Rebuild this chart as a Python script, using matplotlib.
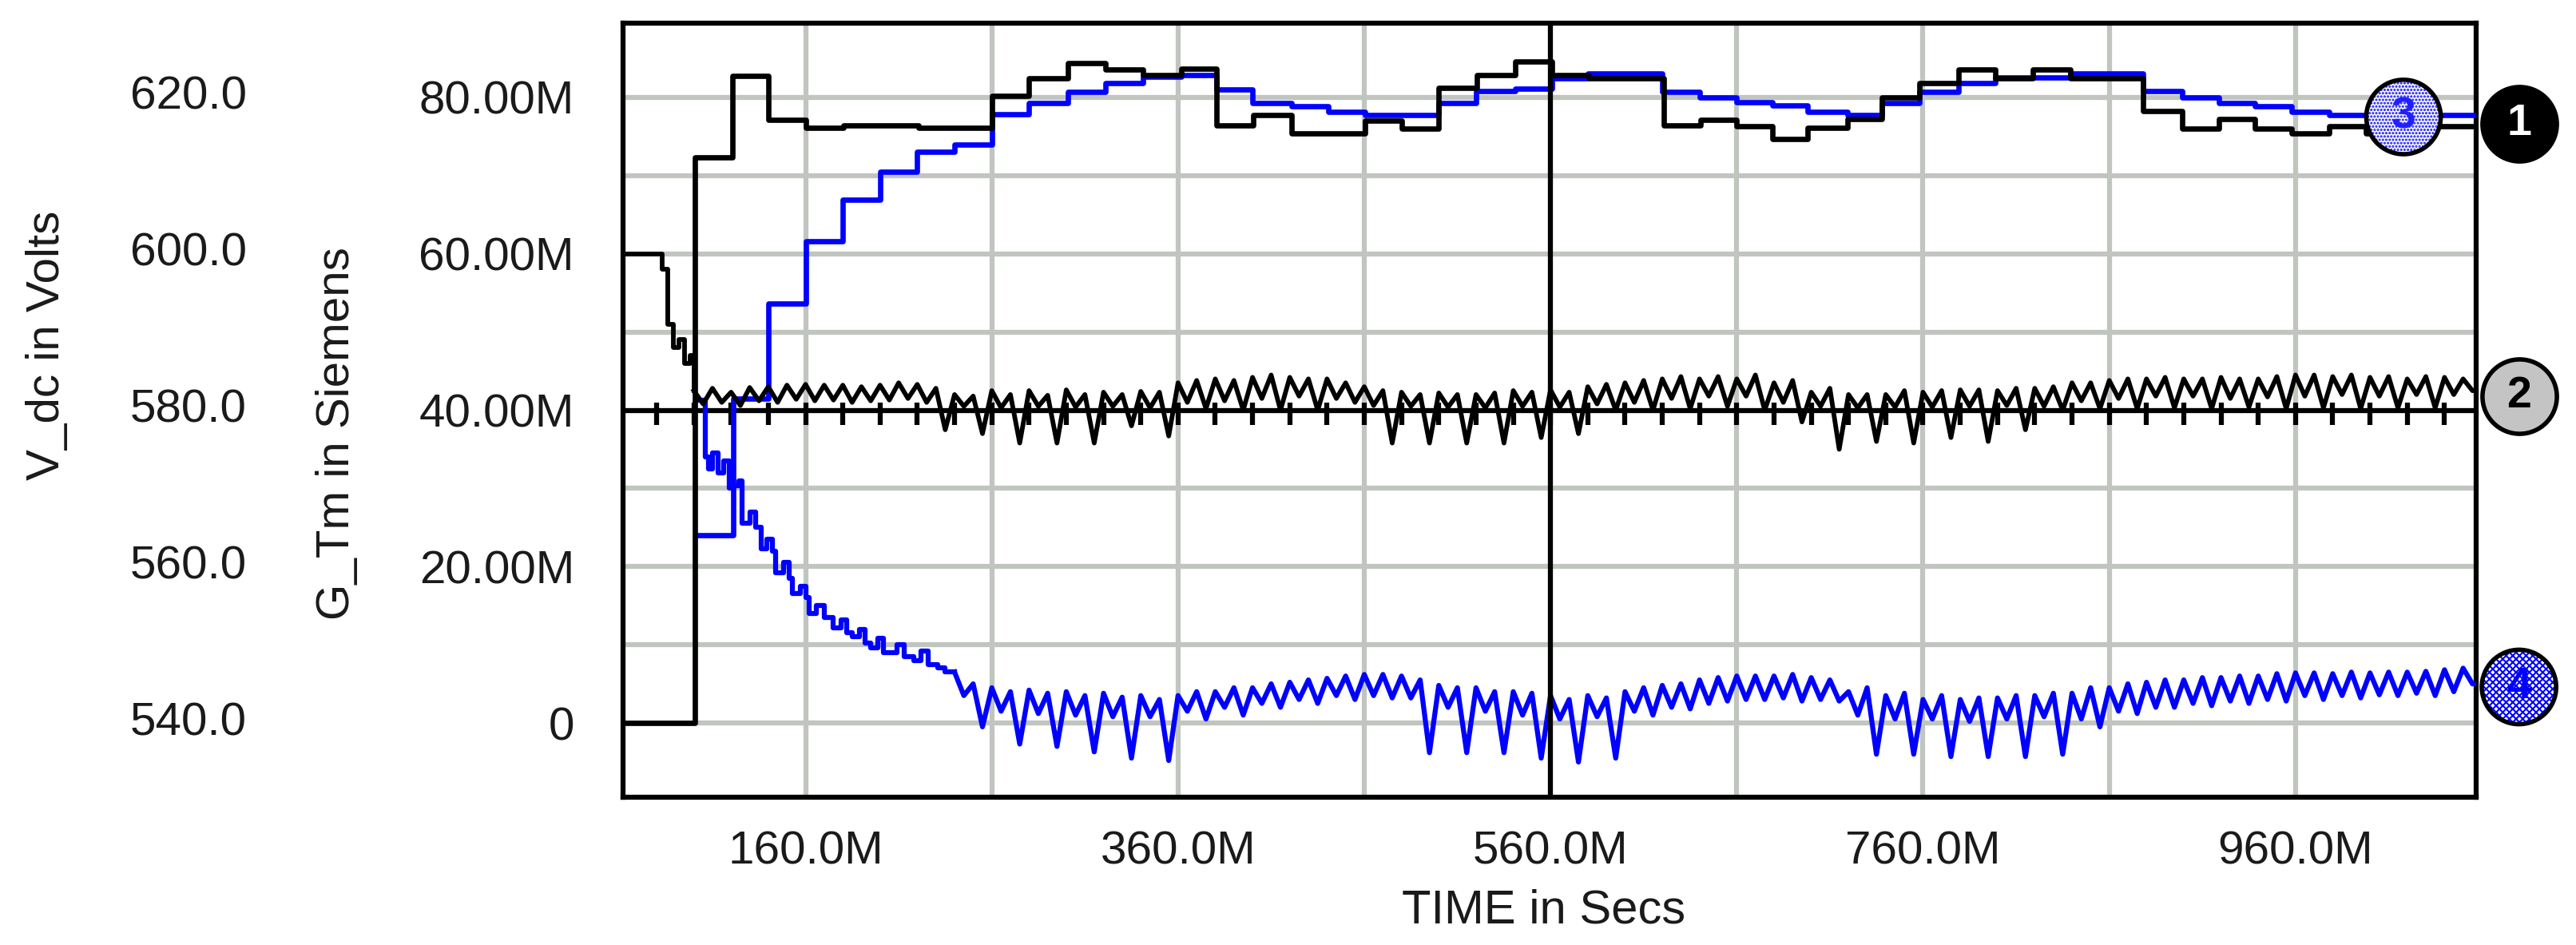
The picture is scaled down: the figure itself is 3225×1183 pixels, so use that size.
import numpy as np
import matplotlib
matplotlib.use("Agg")
import matplotlib.pyplot as plt
from matplotlib.ticker import FixedLocator
from matplotlib import font_manager

names = {f.name for f in font_manager.fontManager.ttflist}
narrow = 'Liberation Sans Narrow' if 'Liberation Sans Narrow' in names else 'Liberation Sans'
plt.rcParams['font.family'] = [narrow, 'Liberation Sans', 'DejaVu Sans']

# ---------------- data (time in M-secs, G in M-Siemens; V = 540 + G) ----------------
t_black1 = [62, 100.6, 120.7, 140.2, 160, 180.4, 220.5, 260, 280, 301, 321, 341, 361.7, 380.6, 400.5, 421,
            460.5, 480, 500, 520.5, 541, 561, 580.5, 620.7, 640.6, 660, 679, 698, 719.5, 738, 758, 779,
            799, 819, 839, 878, 899, 919, 938, 958, 978, 998, 1019, 1037]
v_black1 = [0, 72.3, 82.8, 77.1, 76.1, 76.4, 76.1, 80.2, 82.5, 84.4, 83.6, 82.9, 83.7, 76.4, 77.8, 75.4,
            77.0, 76.0, 81.2, 82.9, 84.6, 82.9, 82.5, 76.4, 77.1, 76.3, 74.7, 76.1, 77.2, 80.0, 81.8, 83.6,
            82.5, 83.6, 82.5, 78.3, 76.0, 77.2, 76.0, 75.4, 76.3, 75.4, 78.3, 76.3]

t_blue3 = [101, 121, 140, 160, 180, 200, 220, 240, 260, 280, 301, 321, 341, 361.7, 380.6, 400, 421, 440.6,
           460.5, 500, 520, 541, 561, 580, 620, 640, 660, 679, 698, 719.5, 738, 758, 779, 799, 839, 878,
           899, 919, 938, 958, 978]
v_blue3 = [24, 41.5, 53.6, 61.6, 66.9, 70.5, 73.0, 74.0, 77.9, 79.3, 80.7, 81.8, 82.7, 82.9, 81.0, 79.3, 78.9, 78.2,
           77.8, 79.3, 80.8, 81.1, 82.4, 83.1, 80.7, 80.0, 79.4, 79.0, 78.2, 77.8, 79.3, 80.7, 81.8, 82.6, 83.1, 80.8,
           80.0, 79.3, 78.9, 78.2, 77.8]

# V_dc (curve 2) start transient, then 5M-step samples from 100M
t_black2_start = [62, 83, 86, 89, 92, 95, 98]
v_black2_start = [60, 58, 51, 48, 49, 46, 47]
black2_rows = [
    [42.5, 40.8, 42.8, 41.0], [42.3, 40.6, 42.9, 41.2], [43.0, 41.0, 43.2, 41.4], [43.3, 41.2, 43.2, 41.3],
    [43.2, 41.0, 43.0, 41.2], [43.2, 41.3, 43.5, 41.5], [43.3, 41.0, 42.8, 37.5], [42.0, 40.5, 41.8, 37.0],
    [42.5, 40.3, 42.0, 35.8], [42.5, 40.5, 41.9, 35.8], [42.6, 40.4, 42.0, 35.8], [42.3, 40.5, 42.0, 38.0],
    [42.4, 40.3, 42.3, 36.7], [43.5, 41.0, 43.8, 40.2], [44.0, 41.2, 43.8, 40.0], [44.2, 41.5, 44.5, 40.0],
    [44.2, 41.8, 44.0, 40.0], [44.0, 41.5, 43.5, 41.0], [43.0, 40.6, 42.5, 35.8], [42.3, 40.5, 42.0, 35.8],
    [42.2, 40.4, 42.0, 35.8], [42.0, 40.3, 42.2, 35.8], [42.5, 40.5, 42.3, 36.5], [42.6, 40.4, 42.3, 37.0],
    [43.0, 40.8, 43.3, 40.0], [43.5, 41.0, 43.8, 40.0], [44.0, 41.5, 44.3, 40.2], [44.0, 41.8, 44.3, 40.5],
    [44.0, 41.8, 44.5, 40.0], [43.5, 41.0, 43.8, 38.5], [42.3, 40.5, 42.8, 35.0], [42.0, 40.3, 42.0, 36.0],
    [42.0, 40.4, 42.5, 35.8], [42.3, 40.4, 42.5, 36.5], [42.6, 40.5, 42.6, 36.0], [42.5, 40.6, 42.8, 37.5],
    [42.8, 40.5, 43.0, 40.0], [43.5, 41.2, 43.5, 40.2], [43.8, 41.5, 44.0, 40.2], [44.0, 41.8, 44.2, 40.3],
    [44.0, 41.8, 44.0, 40.2], [44.2, 41.5, 44.0, 40.4], [44.0, 41.7, 44.3, 40.2], [44.5, 41.8, 44.5, 40.3],
    [44.3, 42.0, 44.5, 40.2], [44.2, 41.8, 44.3, 40.3], [44.0, 42.0, 44.3, 40.3], [44.2, 42.0, 44.0, 42.5],
]

# curve 4 start transient, then 5M-step samples from 240M
t_blue4_start = [103, 106, 108, 110, 113, 116, 119, 121, 124, 126, 130, 133, 136, 139, 142, 144, 148, 151,
                 153, 157, 160, 162, 166, 170, 175, 179, 182, 185, 189, 192, 195, 199, 202, 205, 209, 213,
                 218, 222, 226, 231, 235]
v_blue4_start = [41.3, 34, 32.5, 34.5, 32, 33.5, 30, 30.3, 31, 25.5, 27, 25, 22.3, 23.5, 22, 19.2, 20.5, 18.5,
                 16.6, 17.5, 16, 14, 15, 13.5, 12.2, 13.2, 11.5, 11, 12, 10.2, 9.6, 10.8, 9, 9, 10, 8.5,
                 8, 9.2, 7.5, 7.1, 6.5]
blue4_rows = [
    [6.0, 3.5, 5.0, -0.5], [4.5, 1.5, 4.0, -2.7], [4.2, 1.2, 3.8, -3.0], [4.0, 1.0, 3.5, -3.7],
    [3.8, 0.8, 3.3, -4.5], [3.5, 0.8, 3.0, -4.8], [3.5, 1.5, 4.0, 0.5], [4.0, 2.0, 4.5, 1.0],
    [4.5, 2.5, 5.0, 2.0], [5.2, 3.0, 5.5, 2.5], [5.7, 3.5, 6.0, 3.0], [6.2, 3.5, 6.2, 3.2],
    [6.0, 3.2, 5.5, -3.8], [4.8, 2.0, 4.5, -3.8], [4.5, 1.5, 4.0, -3.8], [4.0, 1.0, 3.8, -4.5],
    [3.5, 0.5, 3.0, -5.0], [3.5, 0.8, 3.2, -4.5], [4.0, 1.5, 4.5, 1.0], [4.8, 2.0, 5.0, 1.8],
    [5.5, 2.5, 5.8, 2.8], [6.0, 3.0, 6.0, 3.0], [6.0, 3.2, 6.2, 2.8], [5.8, 3.0, 5.5, 2.8],
    [4.0, 1.0, 4.5, -4.0], [3.5, 0.5, 3.8, -4.0], [3.0, 0.5, 3.5, -4.3], [3.0, 0.2, 3.2, -4.3],
    [3.2, 0.5, 3.5, -4.3], [3.5, 0.8, 3.8, -4.0], [3.8, 0.5, 4.5, -0.5], [4.5, 1.5, 5.0, 1.2],
    [5.2, 2.0, 5.5, 2.0], [5.5, 2.5, 5.8, 2.2], [5.8, 2.8, 6.0, 2.5], [6.0, 3.0, 6.3, 2.8],
    [6.4, 3.5, 6.4, 3.0], [6.3, 3.5, 6.5, 3.2], [6.4, 3.6, 6.5, 3.5], [6.5, 3.8, 6.6, 3.5],
    [6.8, 4.0, 7.0, 5.0],
]

ref_level = 40.0
ref_tick_times = list(range(80, 1060, 20))
cursor_time = 560

x_ticks = [160, 360, 560, 760, 960]
x_minor = [260, 460, 660, 860]
g_ticks = [0, 20, 40, 60, 80]
v_ticks = [540.0, 560.0, 580.0, 600.0, 620.0]

# ---------------- figure ----------------
T_END = 1057
fig = plt.figure(figsize=(32.25, 11.83), dpi=100)
ax = fig.add_axes([780/3225, 1-998/1183, 2320/3225, 969/1183])
ax.set_xlim(62, T_END)
ax.set_ylim(-9.5, 89.5)

grid_c = '#c0c5bf'
for gy in range(0, 90, 10):
    ax.axhline(gy, color=grid_c, lw=4.5, zorder=0)
for gx in x_ticks + x_minor:
    ax.axvline(gx, color=grid_c, lw=4.5, zorder=0)

def stepline(ts, vs, **kw):
    ax.step(list(ts) + [T_END], list(vs) + [vs[-1]], where='post', **kw)

b2_vals = [v for row in black2_rows for v in row]
b2_t_noise = [100 + 5*i for i in range(len(b2_vals))]
b4_vals = [v for row in blue4_rows for v in row]
b4_t_noise = [240 + 5*i for i in range(len(b4_vals))]

ax.plot([62, T_END], [ref_level, ref_level], color='black', lw=4.5, zorder=3)
ax.plot(ref_tick_times, [ref_level - 0.5]*len(ref_tick_times), ls='none', marker='|',
        ms=20, mew=4.5, color='black', zorder=3)

# transient parts as steps, noisy parts as jagged lines
ax.step(list(t_blue4_start) + [b4_t_noise[0]], list(v_blue4_start) + [v_blue4_start[-1]],
        where='post', color='#0000ff', lw=4.5, zorder=4)
ax.plot([b4_t_noise[0]] + b4_t_noise[1:] + [T_END], [v_blue4_start[-1]] + b4_vals[1:] + [b4_vals[-1]],
        color='#0000ff', lw=4.5, zorder=4)
ax.step(list(t_black2_start) + [b2_t_noise[0]], list(v_black2_start) + [v_black2_start[-1]],
        where='post', color='black', lw=4.2, zorder=5)
ax.plot(b2_t_noise + [T_END], b2_vals + [b2_vals[-1]], color='black', lw=4.2, zorder=5)
ax.plot([b2_t_noise[0], b2_t_noise[0]], [v_black2_start[-1], b2_vals[0]], color='black', lw=4.2, zorder=5)

stepline(t_blue3, v_blue3, color='#0000ff', lw=4.8, zorder=4)
stepline(t_black1, v_black1, color='black', lw=4.8, zorder=5)

ax.axvline(cursor_time, color='black', lw=4.5, zorder=6)

for s in ax.spines.values():
    s.set_linewidth(4.5)

ax.xaxis.set_major_locator(FixedLocator(x_ticks))
ax.set_xticklabels([f'{v:.1f}M' for v in x_ticks])
ax.yaxis.set_major_locator(FixedLocator(g_ticks))
ax.set_yticklabels(['0' if v == 0 else f'{v:.2f}M' for v in g_ticks])
ax.tick_params(axis='both', length=0, labelsize=42, colors='#1a1a1a')
ax.tick_params(axis='y', pad=44)
ax.tick_params(axis='x', pad=30)

ax.set_xlabel('TIME in Secs', fontsize=43, color='#1a1a1a')
ax.xaxis.set_label_coords(0.497, -0.118)
ax.set_ylabel('G_Tm in Siemens', fontsize=42, color='#1a1a1a')
ax.yaxis.set_label_coords((449-780)/2320, 0.47)

for vt in v_ticks:
    ax.text((309-780)/2320, vt - 540, f'{vt:.1f}', transform=ax.get_yaxis_transform(),
            ha='right', va='center', fontsize=42, color='#1a1a1a')
fig.text(59/3225, 1-432/1183, 'V_dc in Volts', rotation=90, ha='center', va='center',
         fontsize=42, color='#1a1a1a')

def marker(x, y, label, face, txtcol, hatch=None):
    if hatch:
        ax.scatter([x], [y], s=4500, marker='o', facecolors='white', edgecolors='#0000ff',
                   hatch=hatch, linewidths=0, clip_on=False, zorder=10)
        ax.scatter([x], [y], s=4500, marker='o', facecolors='none', edgecolors='black',
                   linewidths=4, clip_on=False, zorder=11)
    else:
        ax.scatter([x], [y], s=4500, marker='o', facecolors=face, edgecolors='black',
                   linewidths=4, clip_on=False, zorder=10)
    ax.text(x, y, label, ha='center', va='center', fontsize=40, fontweight='bold',
            color=txtcol, zorder=12, clip_on=False)

plt.rcParams['hatch.linewidth'] = 1.5
marker(1080, 76.6, '1', 'black', 'white')
marker(1080, 41.8, '2', '#c4c4c4', 'black')
marker(1018, 77.5, '3', 'white', '#2020ff', hatch='....')
marker(1080, 4.6, '4', 'white', '#0000ff', hatch='xxxx')

fig.savefig('out.png', dpi=100)
